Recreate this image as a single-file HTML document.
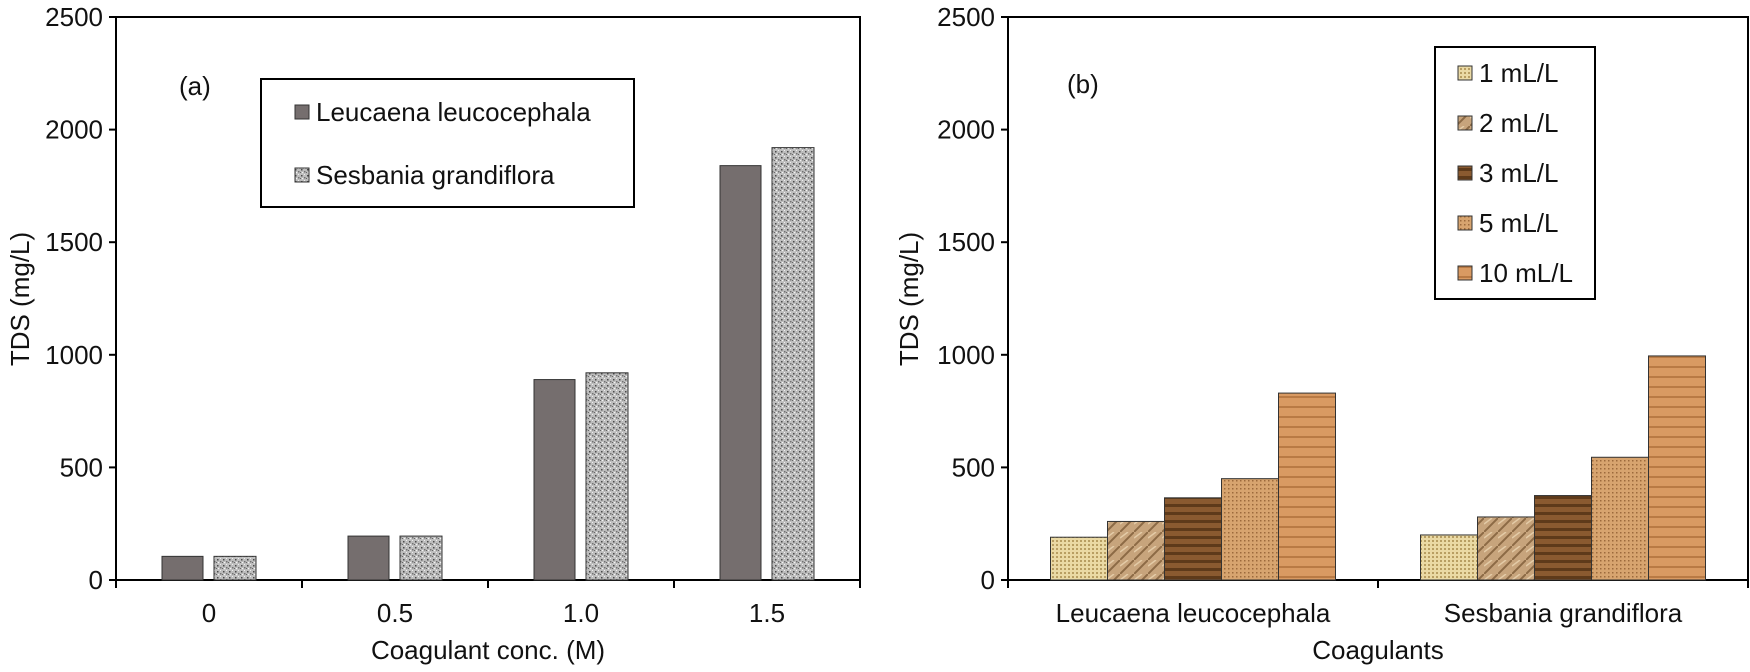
<!DOCTYPE html>
<html><head><meta charset="utf-8"><style>
body{margin:0;background:#fff}
svg text{font-family:"Liberation Sans",sans-serif;fill:#111}
</style></head><body>
<svg width="1750" height="667" viewBox="0 0 1750 667">
<defs>
<pattern id="pSes" width="6" height="6" patternUnits="userSpaceOnUse"><rect width="6" height="6" fill="#bdbdbd"/><rect x="1" y="1" width="1.5" height="1.5" fill="#4a4a4a"/><rect x="4" y="3" width="1.5" height="1.5" fill="#727272"/><rect x="2" y="4" width="1.2" height="1.2" fill="#f4f4f4"/><rect x="4" y="0" width="1" height="1" fill="#eee"/><rect x="0" y="4" width="1" height="1" fill="#666"/></pattern>
<pattern id="p1" width="4" height="4" patternUnits="userSpaceOnUse"><rect width="4" height="4" fill="#ead9a4"/><rect width="2" height="2" fill="#b89e62"/></pattern>
<pattern id="p2" width="14" height="14" patternUnits="userSpaceOnUse"><rect width="14" height="14" fill="#c7a47c"/><path d="M0 14L14 0" stroke="#8c6a45" stroke-width="2"/><path d="M0 6L8 0" stroke="#e3cba7" stroke-width="1.5"/></pattern>
<pattern id="p3" width="8" height="8" patternUnits="userSpaceOnUse"><rect width="8" height="8" fill="#8a5a30"/><rect width="8" height="3" fill="#5e3a1a"/></pattern>
<pattern id="p5" width="4" height="4" patternUnits="userSpaceOnUse"><rect width="4" height="4" fill="#d7a46f"/><rect width="1.5" height="1.5" fill="#9c6a3c"/></pattern>
<pattern id="p10" width="10" height="10" patternUnits="userSpaceOnUse"><rect width="10" height="10" fill="#d99a62"/><rect y="6" width="10" height="2" fill="#b97a44"/></pattern>
</defs>
<g id="chartA"></g>
<g id="chartB"></g>
</svg>
<script>
const categoriesA = ["0","0.5","1.0","1.5"];
const leucaenaA = [105,195,890,1840];
const sesbaniaA = [105,195,920,1920];
const categoriesB = ["Leucaena leucocephala","Sesbania grandiflora"];
const doseLabels = ["1 mL/L","2 mL/L","3 mL/L","5 mL/L","10 mL/L"];
const doseL = [190,260,365,450,830];
const doseS = [200,280,375,545,995];
const yTicks = [0,500,1000,1500,2000,2500];

const NS="http://www.w3.org/2000/svg";
function mk(parent,tag,attrs,txt){const e=document.createElementNS(NS,tag);for(const k in attrs)e.setAttribute(k,attrs[k]);if(txt!==undefined)e.textContent=txt;parent.appendChild(e);return e;}
const plotTop=17,plotBot=580,FS=26;
function y(v){return plotBot-(plotBot-plotTop)*v/2500;}

function axes(g,x0,x1,ncat,labels,lx){
  const f=mk(g,'rect',{x:x0,y:plotTop,width:x1-x0,height:plotBot-plotTop,fill:'none',stroke:'#000','stroke-width':2});
  
  
  yTicks.forEach(t=>{
    mk(g,'line',{x1:x0-7,x2:x0,y1:y(t),y2:y(t),stroke:'#000','stroke-width':2});
    const tx=mk(g,'text',{x:x0-13,y:y(t)+9,'text-anchor':'end','font-size':FS},t);
    
    
  });
  const w=(x1-x0)/ncat;
  for(let i=0;i<=ncat;i++)mk(g,'line',{x1:x0+i*w,x2:x0+i*w,y1:plotBot,y2:plotBot+8,stroke:'#000','stroke-width':2});
  labels.forEach((l,i)=>{const t=mk(g,'text',{x:x0+(i+0.5)*w,y:622,'text-anchor':'middle','font-size':FS},l);
    
    });
  const yt=mk(g,'text',{transform:`translate(${lx},299) rotate(-90)`,'text-anchor':'middle','font-size':FS},'TDS (mg/L)');
  
  
  return w;
}
// Chart A
const gA=document.getElementById('chartA');
const x0A=116,x1A=860;
const wA=axes(gA,x0A,x1A,4,categoriesA,29);
categoriesA.forEach((c,i)=>{
  const cx=x0A+(i+0.5)*wA;
  const b1=mk(gA,'rect',{x:cx-47,y:y(leucaenaA[i]),width:41,height:plotBot-y(leucaenaA[i]),fill:'#756e6e',stroke:'#333','stroke-width':1});
  
  
  const b2=mk(gA,'rect',{x:cx+5,y:y(sesbaniaA[i]),width:42,height:plotBot-y(sesbaniaA[i]),fill:'url(#pSes)',stroke:'#333','stroke-width':1});
  
  
});
let t=mk(gA,'text',{x:488,y:659,'text-anchor':'middle','font-size':FS},'Coagulant conc. (M)');


t=mk(gA,'text',{x:179,y:95,'font-size':FS},'(a)');


const lgA=mk(gA,'g',{});


mk(lgA,'rect',{x:261,y:79,width:373,height:128,fill:'#fff',stroke:'#000','stroke-width':2});
mk(lgA,'rect',{x:295,y:105,width:14,height:14,fill:'#756e6e',stroke:'#333'});
mk(lgA,'text',{x:316,y:121,'font-size':FS},'Leucaena leucocephala');
mk(lgA,'rect',{x:295,y:168,width:14,height:14,fill:'url(#pSes)',stroke:'#333'});
mk(lgA,'text',{x:316,y:184,'font-size':FS},'Sesbania grandiflora');
// Chart B
const gB=document.getElementById('chartB');
const x0B=1008,x1B=1748;
const wB=axes(gB,x0B,x1B,2,categoriesB,918);
const fills=['url(#p1)','url(#p2)','url(#p3)','url(#p5)','url(#p10)'];
[doseL,doseS].forEach((arr,ci)=>{
  const cx=x0B+(ci+0.5)*wB; const bw=57;
  arr.forEach((v,j)=>{
    const r=mk(gB,'rect',{x:cx-2.5*bw+j*bw,y:y(v),width:bw,height:plotBot-y(v),fill:fills[j],stroke:'#333','stroke-width':1});
    
    
  });
});
t=mk(gB,'text',{x:1378,y:659,'text-anchor':'middle','font-size':FS},'Coagulants');


t=mk(gB,'text',{x:1067,y:93,'font-size':FS},'(b)');


const lgB=mk(gB,'g',{});


mk(lgB,'rect',{x:1435,y:47,width:160,height:252,fill:'#fff',stroke:'#000','stroke-width':2});
doseLabels.forEach((l,j)=>{
  const yy=73+j*50;
  const it=mk(lgB,'rect',{x:1458,y:yy-7,width:14,height:14,fill:fills[j],stroke:'#333'});
  
  
  mk(lgB,'text',{x:1479,y:yy+9,'font-size':FS},l);
});
</script>
</body></html>
